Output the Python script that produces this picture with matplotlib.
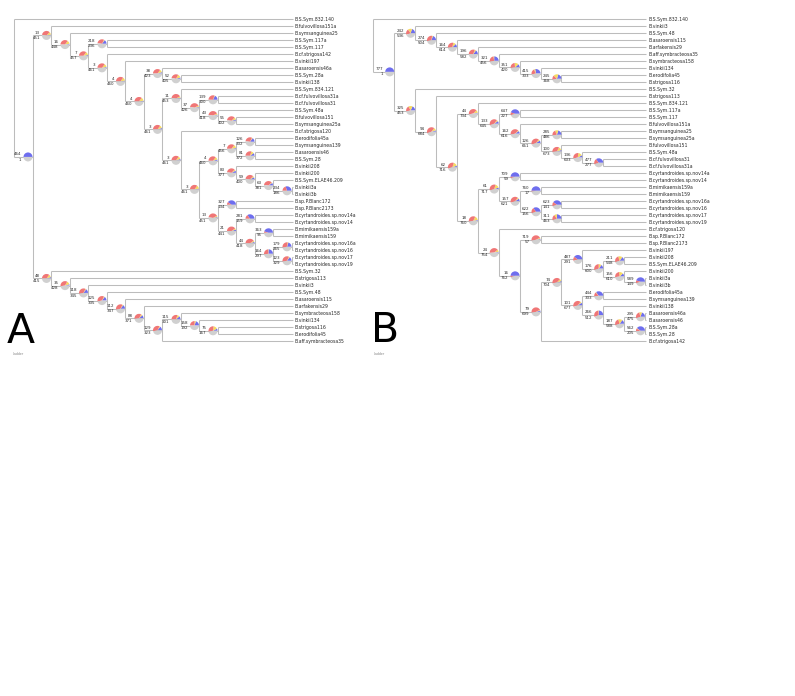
import matplotlib
matplotlib.use("Agg")
import matplotlib.pyplot as plt
from matplotlib.patches import Wedge
from matplotlib.collections import LineCollection
import matplotlib.transforms as mtransforms

# ---------------- data ----------------
# Panel A topology (node labels "n1/n2")
A_C38 = "(B.asaroensis46a,(B.S.Sym.28a,B.vinkii138)52/405)38/423"
A_C11 = ("(B.S.Sym.834.121,((B.cf.fulvovillosa31a,B.cf.fulvovillosa31)139/300,"
         "(B.S.Sym.48a,(B.fulvovillosa151,B.symsanguinea25a)55/402)43/418)37/426)11/453")
A_C4 = ("(((B.erodifolia45a,B.symsanguinea139)126/332,(B.asaroensis46,B.S.Sym.28)81/372)7/456,"
        "(B.vinkii208,(B.vinkii200,(B.S.Sym.ELAE46.209,(B.vinkii3a,B.vinkii3b)234/186)63/381)59/400)83/377)4/460")
A_C13 = ("((B.sp.P.Blanc172,B.sp.P.Blanc2173)327/134,((B.cyrtandroides.sp.nov14a,B.cyrtandroides.sp.nov14)281/159,"
         "((B.mimikaensis159a,B.mimikaensis159)363/95,((B.cyrtandroides.sp.nov16a,B.cyrtandroides.sp.nov16)179/265,"
         "(B.cyrtandroides.sp.nov17,B.cyrtandroides.sp.nov19)123/329)164/297)44/418)21/441)13/451")
A_C3 = "(" + A_C11 + ",(B.cf.strigosa120,(" + A_C4 + "," + A_C13 + ")3/461)3/461)3/461"
A_TOP = ("(B.fulvovillosa151a,(B.symsanguinea25,((B.S.Sym.117a,B.S.Sym.117)218/236,"
         "(B.cf.strigosa142,(B.vinkii197,(" + A_C38 + "," + A_C3 + ")4/460)4/460)3/461)7/457)16/448)13/451")
A_BOT = ("(B.S.Sym.32,(B.strigosa113,(B.vinkii3,(B.S.Sym.48,(B.asaroensis115,(B.arfakensis29,"
         "((B.symbracteosa158,(B.vinkii134,(B.strigosa116,B.erodifolia45)75/167)158/192)115/301,"
         "B.aff.symbracteosa35)129/323)88/371)112/347)125/335)118/345)35/428)48/415")
TREE_A = "(B.S.Sym.832.140,(" + A_TOP + "," + A_BOT + ")464/1);"

# pie fractions for internal nodes of A (preorder, root excluded)
RED_A = [0, .35, .35, .35, .30, .35, .35, .35, .35, .30,
         .35, .40, .40, .30, .40, .35, .35, .35, .35, .35,
         .30, .30, .35, .35, .35, .20, .40, .10, .40, .15,
         .40, .05, .25, .30, .35, .35, .35, .35, .35, .35,
         .35, .35, .30, .25, .30]
YEL_A = [0, .10, .12, .12, .03, .12, .12, .12, .10, .12,
         .10, .05, .05, .02, .05, .08, .10, .12, .10, .12,
         .03, .10, .05, .05, .03, 0, .05, 0, .05, 0,
         .05, 0, .02, .03, .03, .10, .12, .03, .03, .03,
         .05, .03, .08, .05, .15]
BLU_A = [.50, .03, .03, .03, .15, .03, .03, .03, .05, .05,
         .05, .03, .03, .18, .03, .05, .05, .03, .05, .03,
         .15, .10, .08, .08, .10, .30, .03, .40, .05, .35,
         .05, .45, .25, .20, .15, .05, .05, .15, .15, .15,
         .12, .15, .12, .20, .08]

# Panel B topology
B_C242 = ("(B.vinkii3,(B.S.Sym.48,(B.asaroensis115,(B.arfakensis29,(B.aff.symbracteosa35,"
          "(B.symbracteosa158,(B.vinkii134,(B.erodifolia45,B.strigosa116)245/368)415/333)351/420)321/456)"
          "196/582)164/614)274/504)242/536")
B_C44 = ("(B.S.Sym.834.121,((B.S.Sym.117a,B.S.Sym.117)647/227,(B.fulvovillosa151a,"
         "((B.symsanguinea25,B.symsanguinea25a)285/486,(B.fulvovillosa151,(B.S.Sym.48a,"
         "(B.cf.fulvovillosa31,B.cf.fulvovillosa31a)477/277)136/633)100/673)126/651)162/616)133/645)44/734")
B_C61 = ("((B.cyrtandroides.sp.nov14a,B.cyrtandroides.sp.nov14)709/59,((B.mimikaensis159a,B.mimikaensis159)760/17,"
         "((B.cyrtandroides.sp.nov16a,B.cyrtandroides.sp.nov16)623/141,"
         "(B.cyrtandroides.sp.nov17,B.cyrtandroides.sp.nov19)311/463)622/156)157/621)61/717")
B_C74 = ("((B.vinkii197,((B.vinkii208,B.S.Sym.ELAE46.209)211/548,(B.vinkii200,(B.vinkii3a,B.vinkii3b)589/149)"
         "156/610)176/600)487/291,((B.erodifolia45a,B.symsanguinea139)444/333,(B.vinkii138,"
         "((B.asaroensis46a,B.asaroensis46)295/475,(B.S.Sym.28a,B.S.Sym.28)562/205)187/588)266/512)101/677)74/704")
B_C24 = ("(B.cf.strigosa120,((B.sp.P.Blanc172,B.sp.P.Blanc2173)719/57,(" + B_C74 +
         ",B.cf.strigosa142)79/699)16/762)24/754")
B_C325 = "(B.S.Sym.32,(B.strigosa113,(" + B_C44 + ",(" + B_C61 + "," + B_C24 + ")18/760)62/716)94/684)325/453"
TREE_B = "(B.S.Sym.832.140,(" + B_C242 + "," + B_C325 + ")777/1);"

RED_B = [0, .20, .30, .30, .30, .25, .25, .20, .15, .20,
         .40, .35, .40, .40, .10, .40, .40, .20, .35, .30,
         .20, .35, .35, .05, .40, .03, .20, .15, .20, .40,
         .05, .45, .45, .40, .15, .30, .25, .25, .10, .40,
         .15, .30, .25, .25, .10]
YEL_B = [0, .15, .03, .10, .05, .03, .15, .05, .18, .15,
         .10, .15, .10, .05, 0, .03, .05, .12, .12, .15,
         0, .15, .15, 0, .05, 0, 0, 0, .10, .08,
         0, .05, .03, .08, 0, .10, .15, .15, 0, .05,
         .02, .02, .15, .10, .02]
BLU_B = [.50, .20, .20, .12, .15, .25, .12, .28, .20, .18,
         .05, .05, .03, .10, .45, .10, .10, .20, .05, .08,
         .35, .03, .05, .50, .10, .50, .35, .40, .25, .03,
         .50, .03, .05, .05, .40, .15, .15, .12, .45, .10,
         .35, .25, .15, .20, .40]

# ---------------- style ----------------
W, H = 795, 696
DPI = 100
LINE = "#bcbcbc"
TXT = "#2a2a2a"
C_RED, C_YEL, C_BLU, C_GRY = "#f07676", "#f6da62", "#6e6eee", "#d0d0d0"
R_PX = 4.5


def parse_newick(s):
    s = s.strip().rstrip(";")
    pos = 0

    def read_label():
        nonlocal pos
        start = pos
        while pos < len(s) and s[pos] not in ",)":
            pos += 1
        return s[start:pos]

    def node():
        nonlocal pos
        if s[pos] == "(":
            pos += 1
            kids = [node()]
            while s[pos] == ",":
                pos += 1
                kids.append(node())
            pos += 1  # ')'
            return {"label": read_label(), "children": kids}
        return {"label": read_label(), "children": []}

    return node()


def layout(root):
    tips, internals = [], []

    def walk(n, d):
        n["d"] = d
        if not n["children"]:
            n["y"] = len(tips)
            tips.append(n)
        else:
            internals.append(n)
            for c in n["children"]:
                walk(c, d + 1)
            n["y"] = (n["children"][0]["y"] + n["children"][-1]["y"]) / 2.0

    walk(root, 0)
    maxd = max(n["d"] for n in internals)
    for n in internals:
        n["x"] = n["d"]
    for t in tips:
        t["x"] = maxd + 0.07
    return tips, internals


fig = plt.figure(figsize=(W / DPI, H / DPI), dpi=DPI)
fig.patch.set_facecolor("white")


def panel(tree, x0, sx, y0, sy, red, yel, blu):
    root = parse_newick(tree)
    tips, internals = layout(root)
    dlo, dhi = -1.0, 24.0
    ilo, ihi = -2.0, 60.0
    left, right = x0 + sx * dlo, x0 + sx * dhi
    top, bottom = y0 + sy * ilo, y0 + sy * ihi
    ax = fig.add_axes([left / W, 1 - bottom / H, (right - left) / W, (bottom - top) / H])
    ax.set_xlim(dlo, dhi)
    ax.set_ylim(ihi, ilo)
    ax.set_axis_off()

    segs = []
    for n in internals:
        ys = [c["y"] for c in n["children"]]
        segs.append([(n["x"], min(ys)), (n["x"], max(ys))])
        for c in n["children"]:
            segs.append([(n["x"], c["y"]), (c["x"], c["y"])])
    ax.add_collection(LineCollection(segs, colors=LINE, linewidths=0.75, capstyle="butt"))

    pt = 72.0 / DPI
    for t in tips:
        ax.annotate(t["label"], (t["x"], t["y"]), xytext=(2.0 * pt, 0), textcoords="offset points",
                    ha="left", va="center", fontsize=3.3, color=TXT, family="DejaVu Sans")

    r_in = R_PX / DPI
    for k, n in enumerate(internals[1:]):
        fr = [(blu[k], C_BLU), (yel[k], C_YEL), (red[k], C_RED)]
        trans = fig.dpi_scale_trans + mtransforms.ScaledTranslation(n["x"], n["y"], ax.transData)
        th = 0.0
        for f, col in fr:
            if f > 0:
                w = Wedge((-r_in, 0), r_in, th, th + 360 * f, facecolor=col, edgecolor="none",
                          transform=trans, clip_on=False)
                fig.add_artist(w)
                th += 360 * f
        w = Wedge((-r_in, 0), r_in, th, 360, facecolor=C_GRY, edgecolor="none",
                  transform=trans, clip_on=False)
        fig.add_artist(w)
        a, b = n["label"].split("/")
        ax.annotate(a, (n["x"], n["y"]), xytext=(-11 * pt, 2.6 * pt), textcoords="offset points",
                    ha="right", va="center", fontsize=2.9, color=TXT)
        ax.annotate(b, (n["x"], n["y"]), xytext=(-11 * pt, -2.6 * pt), textcoords="offset points",
                    ha="right", va="center", fontsize=2.9, color=TXT)
    return ax


panel(TREE_A, 14.0, 18.5, 19.3, 7.0, RED_A, YEL_A, BLU_A)
panel(TREE_B, 373.3, 20.9, 19.3, 7.0, RED_B, YEL_B, BLU_B)

fig.text(7 / W, 1 - 343 / H, "A", fontsize=29.5, ha="left", va="baseline", color="black")
fig.text(371 / W, 1 - 342 / H, "B", fontsize=29.5, ha="left", va="baseline", color="black")
fig.text(13 / W, 1 - 354 / H, "Ladder", fontsize=2.3, ha="left", va="center", color="#888888")
fig.text(374 / W, 1 - 354 / H, "Ladder", fontsize=2.3, ha="left", va="center", color="#888888")

fig.savefig("out.png", dpi=DPI, facecolor="white")
